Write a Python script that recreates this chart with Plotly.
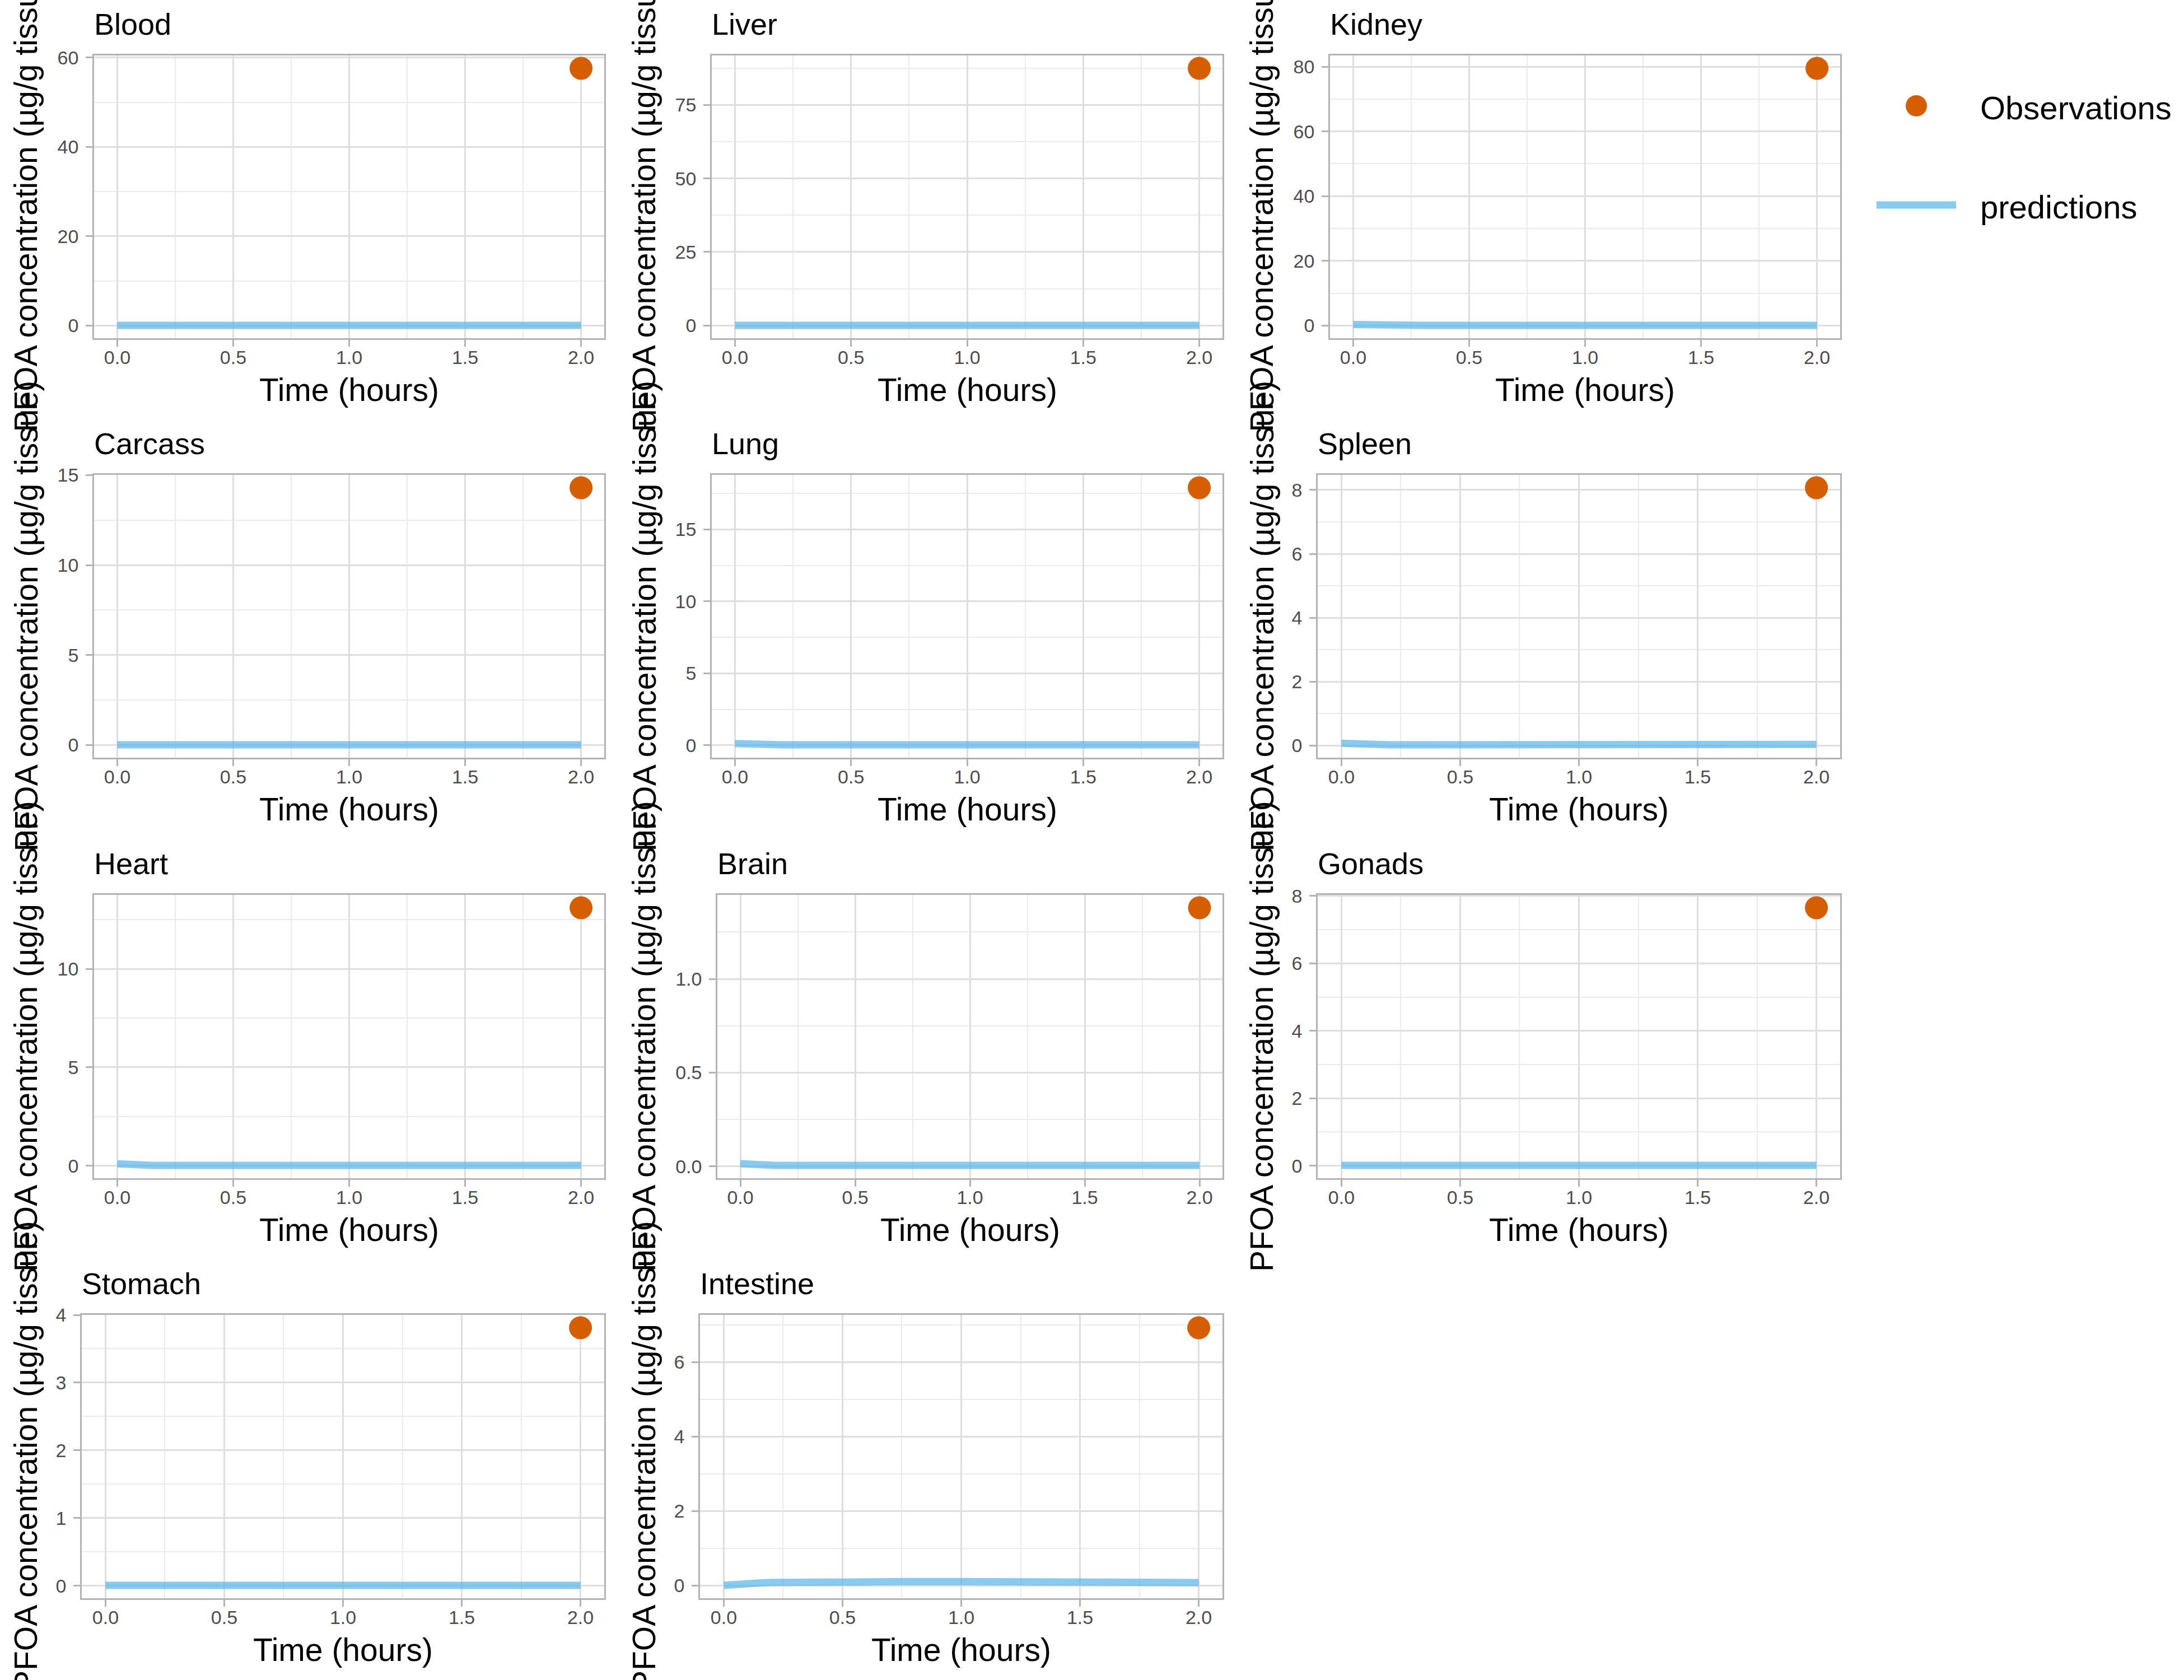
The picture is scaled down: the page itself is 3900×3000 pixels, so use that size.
import plotly.graph_objects as go

# ---------------- data ----------------
organs = ["Blood", "Liver", "Kidney", "Carcass", "Lung", "Spleen",
          "Heart", "Brain", "Gonads", "Stomach", "Intestine"]

obs_time = 2.0
obs_values = [57.6, 87.5, 79.5, 14.3, 17.9, 8.07, 13.1, 1.38, 7.65, 3.81, 6.92]

pred_time = [0.0, 0.02, 0.05, 0.1, 0.15, 0.2, 0.3, 0.4, 0.5, 0.75, 1.0, 1.25, 1.5, 1.75, 2.0]
pred_blood = [0.05, 0.05, 0.04, 0.04, 0.04, 0.04, 0.03, 0.03, 0.03, 0.03, 0.03, 0.03, 0.03, 0.03, 0.03]
pred_liver = [0.02, 0.02, 0.02, 0.02, 0.02, 0.02, 0.02, 0.02, 0.02, 0.02, 0.02, 0.02, 0.02, 0.02, 0.02]
pred_kidney = [0.30, 0.25, 0.20, 0.12, 0.08, 0.06, 0.05, 0.05, 0.05, 0.05, 0.05, 0.05, 0.05, 0.05, 0.05]
pred_carcass = [0.01, 0.01, 0.01, 0.01, 0.01, 0.01, 0.01, 0.01, 0.01, 0.01, 0.01, 0.01, 0.01, 0.01, 0.01]
pred_lung = [0.12, 0.10, 0.07, 0.04, 0.03, 0.03, 0.03, 0.03, 0.03, 0.03, 0.03, 0.03, 0.03, 0.03, 0.03]
pred_spleen = [0.07, 0.06, 0.04, 0.03, 0.02, 0.02, 0.02, 0.02, 0.02, 0.025, 0.03, 0.03, 0.03, 0.035, 0.035]
pred_heart = [0.10, 0.08, 0.05, 0.03, 0.02, 0.02, 0.02, 0.02, 0.02, 0.02, 0.02, 0.02, 0.02, 0.02, 0.02]
pred_brain = [0.014, 0.012, 0.009, 0.006, 0.005, 0.005, 0.005, 0.005, 0.005, 0.005, 0.005, 0.005, 0.005, 0.005, 0.005]
pred_gonads = [0.01, 0.01, 0.01, 0.01, 0.01, 0.01, 0.01, 0.01, 0.01, 0.01, 0.01, 0.01, 0.01, 0.01, 0.01]
pred_stomach = [0.005, 0.005, 0.005, 0.005, 0.005, 0.005, 0.005, 0.005, 0.005, 0.005, 0.005, 0.005, 0.005, 0.005, 0.005]
pred_intestine = [0.0, 0.015, 0.03, 0.05, 0.065, 0.078, 0.09, 0.096, 0.10, 0.10, 0.10, 0.095, 0.09, 0.083, 0.075]

predictions = [pred_blood, pred_liver, pred_kidney, pred_carcass, pred_lung, pred_spleen,
               pred_heart, pred_brain, pred_gonads, pred_stomach, pred_intestine]

x_tickvals = [0.0, 0.5, 1.0, 1.5, 2.0]
x_ticktext = ["0.0", "0.5", "1.0", "1.5", "2.0"]

y_tickvals = [
    [0, 20, 40, 60],
    [0, 25, 50, 75],
    [0, 20, 40, 60, 80],
    [0, 5, 10, 15],
    [0, 5, 10, 15],
    [0, 2, 4, 6, 8],
    [0, 5, 10],
    [0, 0.5, 1.0],
    [0, 2, 4, 6, 8],
    [0, 1, 2, 3, 4],
    [0, 2, 4, 6],
]
y_ticktext = [
    ["0", "20", "40", "60"],
    ["0", "25", "50", "75"],
    ["0", "20", "40", "60", "80"],
    ["0", "5", "10", "15"],
    ["0", "5", "10", "15"],
    ["0", "2", "4", "6", "8"],
    ["0", "5", "10"],
    ["0.0", "0.5", "1.0"],
    ["0", "2", "4", "6", "8"],
    ["0", "1", "2", "3", "4"],
    ["0", "2", "4", "6"],
]

x_title = "Time (hours)"
y_title = "PFOA concentration (µg/g tissue)"
legend_labels = ["Observations", "predictions"]

# ---------------- layout constants (pixels) ----------------
W, H = 3900, 3000
row_top = [99, 848, 1598, 2348]
row_bottom = [604, 1353, 2104, 2854]
col_cell_left = [0, 1104, 2207]
col_right = [1079, 2183, 3286]
panel_left = [168, 1271, 2375, 168, 1271, 2353, 168, 1281, 2353, 146, 1250]

FONT = "Liberation Sans, Arial, Helvetica, sans-serif"
PRED_COLOR = "rgba(86,180,233,0.7)"
OBS_COLOR = "#D55E00"
GRID_MAJOR = "#DEDEDE"
GRID_MINOR = "#EBEBEB"
BORDER = "#B3B3B3"
TICK_FONT = dict(family=FONT, size=34, color="#4D4D4D")


def px_x(v):
    return v / W


def px_y(v):
    return 1 - v / H


def minor_vals(major, lo, hi):
    step = major[1] - major[0]
    vals = []
    v = major[0] - step / 2
    while v <= hi + 1e-9:
        if v >= lo:
            vals.append(v)
        v += step
    return vals


fig = go.Figure()
annotations = []
shapes = []

for i, organ in enumerate(organs):
    n = i + 1
    r, c = divmod(i, 3)
    sfx = "" if n == 1 else str(n)
    xa, ya = "x" + sfx, "y" + sfx

    preds = predictions[i]
    lo = min(min(preds), obs_values[i])
    hi = max(max(preds), obs_values[i])
    span = hi - lo
    yr = [lo - 0.05 * span, hi + 0.05 * span]
    xr = [-0.1, 2.1]

    fig.add_trace(go.Scatter(
        x=pred_time, y=preds, mode="lines",
        line=dict(color=PRED_COLOR, width=13),
        xaxis=xa, yaxis=ya, name=legend_labels[1], showlegend=False, hoverinfo="skip"))
    fig.add_trace(go.Scatter(
        x=[obs_time], y=[obs_values[i]], mode="markers",
        marker=dict(color=OBS_COLOR, size=41, line=dict(width=0)),
        xaxis=xa, yaxis=ya, name=legend_labels[0], showlegend=False, hoverinfo="skip"))

    left = panel_left[i]
    right = col_right[c]
    top = row_top[r]
    bottom = row_bottom[r]

    common = dict(
        showline=True, mirror=True, linecolor=BORDER, linewidth=2.5,
        ticks="outside", ticklen=12, tickwidth=2.5, tickcolor=BORDER,
        tickfont=TICK_FONT, showgrid=True, gridcolor=GRID_MAJOR, gridwidth=2.5,
        zeroline=False, fixedrange=True,
    )
    fig.layout["xaxis" + sfx] = dict(
        domain=[px_x(left), px_x(right)], anchor=ya, range=xr,
        tickmode="array", tickvals=x_tickvals, ticktext=x_ticktext,
        ticklabelstandoff=-10,
        minor=dict(tickvals=minor_vals(x_tickvals, xr[0], xr[1]), showgrid=True,
                   gridcolor=GRID_MINOR, gridwidth=1.5, ticks=""),
        **common)
    fig.layout["yaxis" + sfx] = dict(
        domain=[px_y(bottom), px_y(top)], anchor=xa, range=yr,
        tickmode="array", tickvals=y_tickvals[i], ticktext=y_ticktext[i],
        ticklabelstandoff=6,
        minor=dict(tickvals=minor_vals(y_tickvals[i], yr[0], yr[1]), showgrid=True,
                   gridcolor=GRID_MINOR, gridwidth=1.5, ticks=""),
        **common)

    # panel title
    annotations.append(dict(
        text=organ, xref="paper", yref="paper",
        x=px_x(left - 2), y=px_y(top - 24), xanchor="left", yanchor="bottom",
        showarrow=False, font=dict(family=FONT, size=54, color="black")))
    # x axis title
    annotations.append(dict(
        text=x_title, xref="paper", yref="paper",
        x=px_x((left + right) / 2), y=px_y(bottom + 92), xanchor="center", yanchor="middle",
        showarrow=False, font=dict(family=FONT, size=57, color="black")))
    # y axis title
    annotations.append(dict(
        text=y_title, xref="paper", yref="paper", textangle=-90,
        x=px_x(col_cell_left[c] + 46), y=px_y((top + bottom) / 2),
        xanchor="center", yanchor="middle",
        showarrow=False, font=dict(family=FONT, size=57, color="black")))

# ---------------- legend (keys + labels) ----------------
LEG_KEY_CX = 3422
LEG_TEXT_X = 3536
LEG_ROW_Y = [189, 366]
KEY_HALF = 71
DOT_R = 19

shapes.append(dict(
    type="circle", xref="paper", yref="paper",
    x0=px_x(LEG_KEY_CX - DOT_R), x1=px_x(LEG_KEY_CX + DOT_R),
    y0=px_y(LEG_ROW_Y[0] + DOT_R), y1=px_y(LEG_ROW_Y[0] - DOT_R),
    fillcolor=OBS_COLOR, line=dict(width=0)))
shapes.append(dict(
    type="line", xref="paper", yref="paper",
    x0=px_x(LEG_KEY_CX - KEY_HALF), x1=px_x(LEG_KEY_CX + KEY_HALF),
    y0=px_y(LEG_ROW_Y[1]), y1=px_y(LEG_ROW_Y[1]),
    line=dict(color=PRED_COLOR, width=13)))
for lbl, yy in zip(legend_labels, LEG_ROW_Y):
    annotations.append(dict(
        text=lbl, xref="paper", yref="paper",
        x=px_x(LEG_TEXT_X - 2), y=px_y(yy + 3), xanchor="left", yanchor="middle",
        showarrow=False, font=dict(family=FONT, size=58, color="black")))

fig.update_layout(
    width=W, height=H,
    margin=dict(l=0, r=0, t=0, b=0, pad=0, autoexpand=False),
    paper_bgcolor="white", plot_bgcolor="white",
    font=dict(family=FONT, size=57, color="black"),
    annotations=annotations,
    shapes=shapes,
    showlegend=False,
)

fig.write_html("out.html")
